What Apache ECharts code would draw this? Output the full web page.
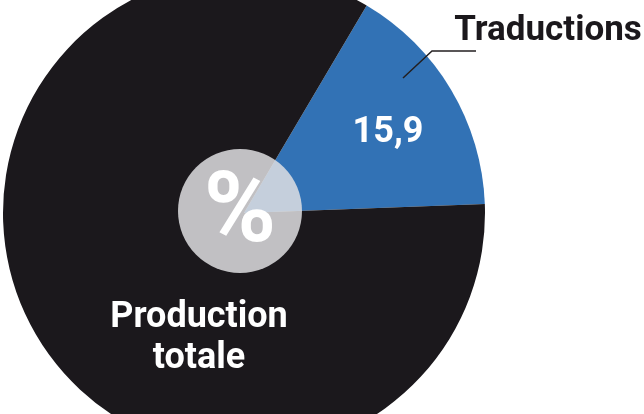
<!DOCTYPE html>
<html>
<head>
<meta charset="utf-8">
<script src="https://cdn.jsdelivr.net/npm/echarts@6/dist/echarts.min.js"></script>
<style>
html,body{margin:0;padding:0;background:#fff;}
#chart{width:644px;height:414px;}
</style>
</head>
<body>
<div id="chart"></div>
<script>
var categories = ['Traductions', 'Production totale'];
var values = [15.9, 84.1];
var valueLabels = ['15,9', 'Production\ntotale'];
var centerSymbol = '%';

var FONT = 'Roboto, "DejaVu Sans Condensed", sans-serif';
var colors = ['#3272b5', '#1b181c'];

var chart = echarts.init(document.getElementById('chart'), null, {renderer: 'canvas'});

var mainData = categories.map(function (c, i) {
  return {name: c, value: values[i], itemStyle: {color: colors[i]}};
});
var overlayData = categories.map(function (c, i) {
  return {
    name: c, value: values[i],
    label: {show: i === 0},
    labelLine: {show: i === 0}
  };
});

var insidePos = [[388, 133], [199, 338]];

var option = {
  animation: false,
  backgroundColor: '#ffffff',
  series: [
    {
      type: 'pie',
      z: 2,
      center: [244, 213],
      radius: [0, 241],
      startAngle: 59.4,
      clockwise: true,
      silent: true,
      emphasis: {disabled: true},
      data: mainData,
      label: {
        show: true,
        position: 'inside',
        formatter: function (p) { return valueLabels[p.dataIndex]; },
        color: '#ffffff',
        fontFamily: FONT,
        fontWeight: 'bold',
        fontSize: 36,
        lineHeight: 41,
        overflow: 'none'
      },
      labelLine: {show: false},
      labelLayout: function (p) {
        var pos = insidePos[p.dataIndex];
        return {x: pos[0], y: pos[1], align: 'center', verticalAlign: 'middle'};
      }
    },
    {
      type: 'pie',
      z: 3,
      center: [244, 213],
      radius: [0, 241],
      startAngle: 59.4,
      clockwise: true,
      silent: true,
      emphasis: {disabled: true},
      itemStyle: {color: 'rgba(0,0,0,0)'},
      data: overlayData,
      label: {
        position: 'outside',
        formatter: '{b}',
        color: '#1b181c',
        fontFamily: FONT,
        fontWeight: 'bold',
        fontSize: 35,
        overflow: 'none'
      },
      labelLine: {
        showAbove: true,
        lineStyle: {color: '#231f20', width: 1.5}
      },
      labelLayout: function (p) {
        return {
          x: 548, y: 31, align: 'center', verticalAlign: 'middle',
          labelLinePoints: [[403, 78], [432, 51], [476, 51]]
        };
      }
    },
    {
      type: 'pie',
      z: 4,
      center: [240, 211],
      radius: [0, 62],
      silent: true,
      emphasis: {disabled: true},
      data: [{name: centerSymbol, value: 1, itemStyle: {color: 'rgba(225,225,228,0.84)'}}],
      label: {
        show: true,
        position: 'center',
        formatter: '{b}',
        color: '#ffffff',
        fontFamily: FONT,
        fontWeight: 'bold',
        fontSize: 98
      },
      labelLine: {show: false},
      labelLayout: function () {
        return {dy: 5};
      }
    }
  ]
};
chart.setOption(option);
</script>
</body>
</html>
